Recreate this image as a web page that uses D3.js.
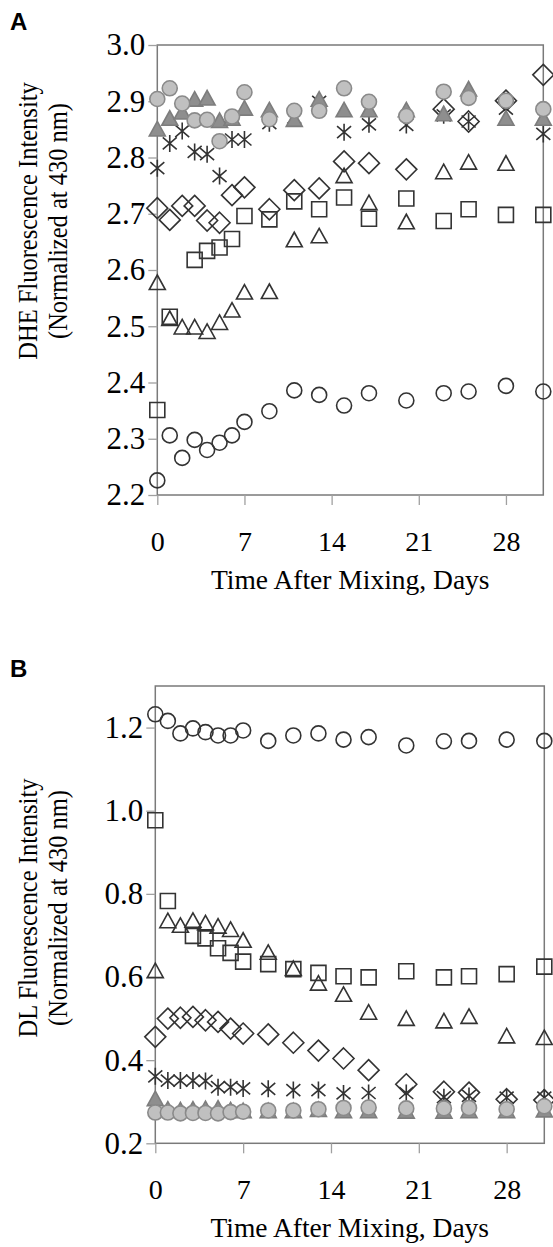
<!DOCTYPE html>
<html>
<head>
<meta charset="utf-8">
<script src="https://cdn.jsdelivr.net/npm/d3@7"></script>
<style>
  body { margin: 0; background: #fff; }
  svg { display: block; }
  .tick text { font-family: 'Liberation Serif', 'Times New Roman', serif; fill: #000; }
  .y-ax .tick text { font-size: 31px; }
  .x-ax .tick text { font-size: 28px; }
  .axis-title { font-family: 'Liberation Serif', 'Times New Roman', serif; font-size: 27.5px; fill: #000; }
  .y-title { font-size: 24.5px; }
  .panel-label { font-family: 'Liberation Sans', Arial, sans-serif; font-weight: bold; font-size: 24px; }
</style>
</head>
<body>
<div id="chart"></div>
<script>
const W = 553;
const H = 1247;

// sampling days (shared by both panels)
const days = [0, 1, 2, 3, 4, 5, 6, 7, 9, 11, 13, 15, 17, 20, 23, 25, 28, 31];
const xTicks = [0, 7, 14, 21, 28];

// panel A: DHE fluorescence
const aCircleOpen = [2.226, 2.306, 2.266, 2.298, 2.280, 2.293, 2.306, 2.330, 2.349, 2.386, 2.378, 2.359, 2.381, 2.368, 2.381, 2.384, 2.394, 2.384];
const aSquareOpen = [2.351, 2.517, null, 2.618, 2.634, 2.640, 2.655, 2.696, 2.690, 2.722, 2.708, 2.729, 2.691, 2.727, 2.687, 2.708, 2.698, 2.698];
const aTriangleOpen = [2.576, 2.512, 2.497, 2.497, 2.489, 2.505, 2.527, 2.559, 2.560, 2.652, 2.659, 2.766, 2.718, 2.684, 2.773, 2.790, 2.788, null];
const aDiamondOpen = [2.710, 2.689, 2.714, 2.714, 2.688, 2.684, 2.733, 2.747, 2.708, 2.742, 2.745, 2.793, 2.790, 2.779, 2.886, 2.864, 2.901, 2.947];
const aAsterisk = [2.781, 2.825, 2.847, 2.810, 2.806, 2.767, 2.832, 2.832, 2.861, 2.871, 2.899, 2.845, 2.859, 2.858, 2.875, 2.864, 2.887, 2.842];
const aTriangleFilled = [2.849, 2.868, 2.879, 2.902, 2.904, 2.864, 2.868, 2.886, 2.883, 2.866, 2.902, 2.883, 2.883, 2.883, 2.876, 2.920, 2.868, 2.868];
const aCircleFilled = [2.904, 2.923, 2.896, 2.866, 2.867, 2.829, 2.873, 2.916, 2.868, 2.883, 2.883, 2.923, 2.899, 2.874, 2.917, 2.906, 2.901, 2.886];
const aYTicks = [2.2, 2.3, 2.4, 2.5, 2.6, 2.7, 2.8, 2.9, 3.0];

// panel B: DL fluorescence
const bCircleOpen = [1.232, 1.216, 1.186, 1.198, 1.189, 1.181, 1.181, 1.193, 1.168, 1.181, 1.186, 1.171, 1.177, 1.157, 1.167, 1.168, 1.171, 1.168];
const bSquareOpen = [0.977, 0.783, null, 0.699, 0.693, 0.669, 0.658, 0.637, 0.631, 0.619, 0.610, 0.602, 0.599, 0.614, 0.599, 0.602, 0.607, 0.625];
const bTriangleOpen = [0.613, 0.733, 0.722, 0.734, 0.728, 0.720, 0.712, 0.686, 0.657, 0.618, 0.583, 0.556, 0.513, 0.498, 0.492, 0.503, 0.456, 0.452];
const bDiamondOpen = [0.456, 0.500, 0.502, 0.504, 0.496, 0.492, 0.476, 0.464, 0.462, 0.442, 0.423, 0.404, 0.376, 0.342, 0.324, 0.322, 0.306, 0.304];
const bAsterisk = [0.361, 0.351, 0.351, 0.351, 0.350, 0.335, 0.335, 0.332, 0.331, 0.328, 0.328, 0.320, 0.321, 0.321, 0.311, 0.314, 0.310, 0.310];
const bTriangleFilled = [0.305, 0.280, 0.278, 0.280, 0.281, 0.282, 0.278, 0.276, 0.276, 0.276, 0.279, 0.276, 0.276, 0.275, 0.275, 0.276, 0.276, 0.278];
const bCircleFilled = [0.274, 0.274, 0.272, 0.273, 0.273, 0.272, 0.275, 0.276, 0.279, 0.279, 0.282, 0.285, 0.286, 0.284, 0.284, 0.285, 0.282, 0.289];
const bYTicks = [0.2, 0.4, 0.6, 0.8, 1.0, 1.2];

const INK = '#333';
const BORDER = '#7a7a7a';

// marker path builders, centred on 0,0
const shapes = {
  circle: () => d3.arc()({ innerRadius: 0, outerRadius: 7.5, startAngle: 0, endAngle: 2 * Math.PI }),
  square: () => 'M-7.5,-7.5H7.5V7.5H-7.5Z',
  triangle: () => 'M0,-8.5L8,6L-8,6Z',
  diamond: () => 'M0,-10.5L10.5,0L0,10.5L-10.5,0Z',
  asterisk: () => 'M-7,-6L7,6M-7,6L7,-6M0,-8.5V8.5',
};

const series = (a) => [
  { values: a[0], shape: 'circle', fill: 'none', stroke: INK },
  { values: a[1], shape: 'square', fill: 'none', stroke: INK },
  { values: a[2], shape: 'triangle', fill: 'none', stroke: INK },
  { values: a[3], shape: 'diamond', fill: 'none', stroke: INK },
  { values: a[4], shape: 'asterisk', fill: 'none', stroke: INK },
  { values: a[5], shape: 'triangle', fill: '#8e8e8e', stroke: '#7d7d7d' },
  { values: a[6], shape: 'circle', fill: '#c0c0c0', stroke: '#8a8a8a' },
];

const svg = d3.select('#chart').append('svg').attr('width', W).attr('height', H);

function panel(cfg) {
  const x = d3.scaleLinear().domain([0, 31]).range([cfg.left, cfg.right]);
  const y = d3.scaleLinear().domain(cfg.yDomain).range([cfg.bottom, cfg.top]);
  const g = svg.append('g');

  // frame
  g.append('rect')
    .attr('x', cfg.left).attr('y', cfg.top)
    .attr('width', cfg.right - cfg.left).attr('height', cfg.bottom - cfg.top)
    .attr('fill', 'none').attr('stroke', BORDER).attr('stroke-width', 1.5);

  const yAxis = g.append('g')
    .attr('class', 'y-ax')
    .attr('transform', `translate(${cfg.left},0)`)
    .call(d3.axisLeft(y).tickValues(cfg.yTicks).tickFormat(d3.format('.1f')).tickSize(9).tickPadding(3));
  const xAxis = g.append('g')
    .attr('class', 'x-ax')
    .attr('transform', `translate(0,${cfg.bottom})`)
    .call(d3.axisBottom(x).tickValues(xTicks).tickFormat(d3.format('d')).tickSize(10).tickPadding(26));
  [yAxis, xAxis].forEach((ax) => {
    ax.select('.domain').remove();
    ax.selectAll('.tick line').attr('stroke', '#a0a0a0').attr('stroke-width', 1.3);
  });

  // markers
  series(cfg.data).forEach((s) => {
    g.append('g')
      .selectAll('path')
      .data(days.map((d, i) => ({ day: d, v: s.values[i] })).filter((p) => p.v != null))
      .join('path')
      .attr('transform', (p) => `translate(${x(p.day)},${y(p.v)})`)
      .attr('d', shapes[s.shape]())
      .attr('fill', s.fill)
      .attr('stroke', s.stroke)
      .attr('stroke-width', 1.6);
  });

  // axis titles
  g.append('text')
    .attr('class', 'axis-title')
    .attr('x', (cfg.left + cfg.right) / 2)
    .attr('y', cfg.bottom + 94)
    .attr('text-anchor', 'middle')
    .text('Time After Mixing, Days');

  // y title glyphs are a little wider in the source, so stretch across
  const yt = g.append('text')
    .attr('class', 'axis-title y-title')
    .attr('transform', `translate(37,${cfg.yTitleMid}) rotate(-90) scale(1,1.15)`)
    .attr('text-anchor', 'middle');
  yt.append('tspan').attr('x', 0).attr('y', 0).text(cfg.yTitle);
  yt.append('tspan').attr('x', 0).attr('y', 26).text('(Normalized at 430 nm)');

  svg.append('text')
    .attr('class', 'panel-label')
    .attr('x', 10).attr('y', cfg.labelY)
    .text(cfg.label);
}

panel({
  label: 'A', labelY: 30,
  left: 157.3, right: 543.3, top: 45, bottom: 495,
  yDomain: [2.2, 3.0], yTicks: aYTicks,
  data: [aCircleOpen, aSquareOpen, aTriangleOpen, aDiamondOpen, aAsterisk, aTriangleFilled, aCircleFilled],
  yTitle: 'DHE Fluorescence Intensity', yTitleMid: 221,
});

panel({
  label: 'B', labelY: 677,
  left: 155.3, right: 544.3, top: 686, bottom: 1143.3,
  yDomain: [0.2, 1.3], yTicks: bYTicks,
  data: [bCircleOpen, bSquareOpen, bTriangleOpen, bDiamondOpen, bAsterisk, bTriangleFilled, bCircleFilled],
  yTitle: 'DL Fluorescence Intensity', yTitleMid: 908,
});
</script>
</body>
</html>
